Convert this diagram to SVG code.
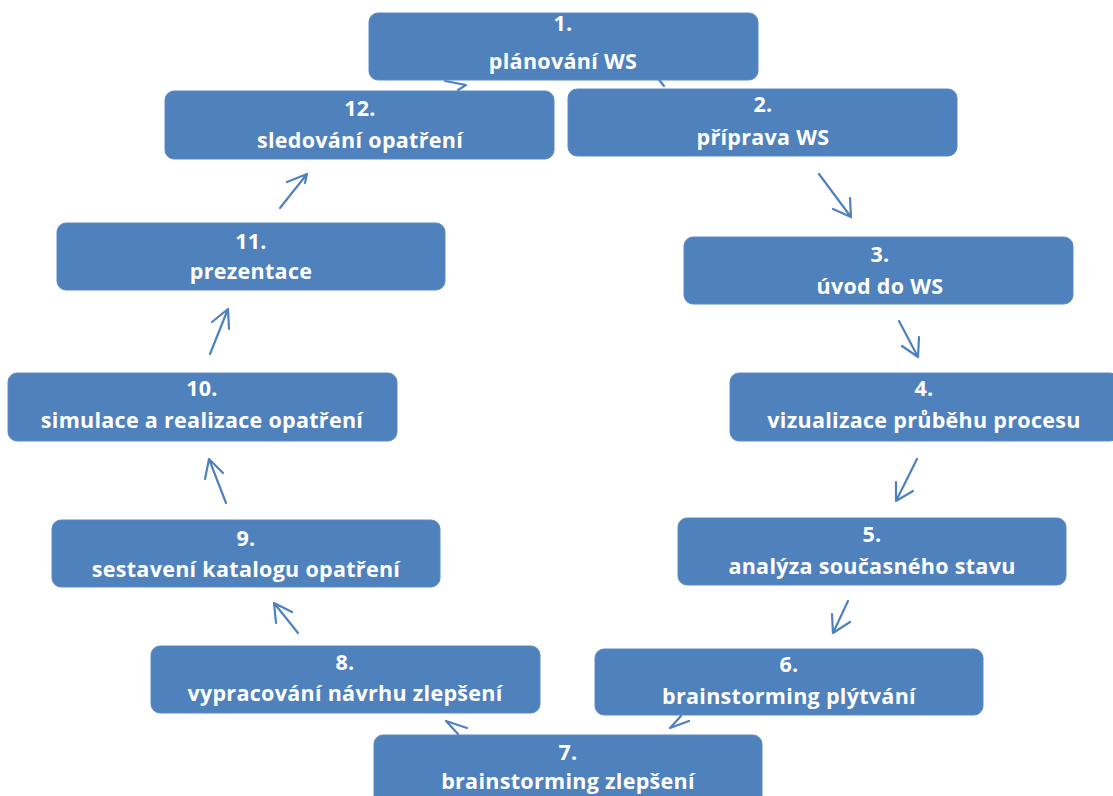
<svg xmlns="http://www.w3.org/2000/svg" width="1113" height="796" viewBox="0 0 1113 796">
  <style>
    .box { fill: #4F81BD; stroke: #5A8AC4; stroke-width: 1; }
    .lbl { fill: #FFFFFF; font-family: "Open Sans", "Liberation Sans", Arial, sans-serif; font-weight: bold; font-size: 21.5px; letter-spacing: 0.3px; text-anchor: middle; }
    .arrow { fill: none; stroke: #4F81BD; stroke-width: 2.2; stroke-linecap: round; stroke-linejoin: round; }
  </style>

  <rect x="0" y="0" width="1113" height="796" fill="#FFFFFF"/>

  <!-- connectors (drawn under the boxes) -->
  <g id="connectors">
    <path class="arrow" d="M445 81 L466 85 L458 90"/>
    <path class="arrow" d="M656 76 L664 86"/>
    <path class="arrow" d="M819 174 L851 217 M833 209 L851 217 L850 198"/>
    <path class="arrow" d="M899 321 L918 357 M902 346 L918 357 L919 337"/>
    <path class="arrow" d="M917 459 L896 501 M896 482 L896 501 L913 491"/>
    <path class="arrow" d="M848 601 L833 633 M832 614 L833 633 L850 622"/>
    <path class="arrow" d="M670 728 L689 721 M670 728 L681 716"/>
    <path class="arrow" d="M446 721 L467 728 M446 721 L458 734"/>
    <path class="arrow" d="M298 633 L274 603 M276 623 L274 603 L292 612"/>
    <path class="arrow" d="M226 503 L209 459 M205 479 L209 459 L223 473"/>
    <path class="arrow" d="M210 354 L228 309 M212 322 L228 309 L229 329"/>
    <path class="arrow" d="M280 208 L307 174 M287 182 L307 174 L305 183"/>
  </g>

  <g id="node1">
    <rect class="box" x="369" y="13" width="389" height="67" rx="9"/>
    <text class="lbl" x="563" y="31">1.</text>
    <text class="lbl" x="563" y="69">plánování WS</text>
  </g>
  <g id="node2">
    <rect class="box" x="568" y="89" width="389" height="67" rx="9"/>
    <text class="lbl" x="763" y="112">2.</text>
    <text class="lbl" x="763" y="145">příprava WS</text>
  </g>
  <g id="node3">
    <rect class="box" x="684" y="237" width="389" height="67" rx="9"/>
    <text class="lbl" x="880" y="262">3.</text>
    <text class="lbl" x="880" y="294">úvod do WS</text>
  </g>
  <g id="node4">
    <rect class="box" x="730" y="373" width="389" height="68" rx="9"/>
    <text class="lbl" x="924" y="396">4.</text>
    <text class="lbl" x="924" y="428">vizualizace průběhu procesu</text>
  </g>
  <g id="node5">
    <rect class="box" x="678" y="518" width="388" height="67" rx="9"/>
    <text class="lbl" x="872" y="542">5.</text>
    <text class="lbl" x="872" y="574">analýza současného stavu</text>
  </g>
  <g id="node6">
    <rect class="box" x="595" y="649" width="388" height="66" rx="9"/>
    <text class="lbl" x="789" y="672">6.</text>
    <text class="lbl" x="789" y="704">brainstorming plýtvání</text>
  </g>
  <g id="node7">
    <rect class="box" x="374" y="735" width="388" height="75" rx="9"/>
    <text class="lbl" x="568" y="760">7.</text>
    <text class="lbl" x="568" y="789">brainstorming zlepšení</text>
  </g>
  <g id="node8">
    <rect class="box" x="151" y="646" width="389" height="67" rx="9"/>
    <text class="lbl" x="345" y="670">8.</text>
    <text class="lbl" x="345" y="701">vypracování návrhu zlepšení</text>
  </g>
  <g id="node9">
    <rect class="box" x="52" y="520" width="388" height="67" rx="9"/>
    <text class="lbl" x="246" y="546">9.</text>
    <text class="lbl" x="246" y="577">sestavení katalogu opatření</text>
  </g>
  <g id="node10">
    <rect class="box" x="8" y="373" width="389" height="68" rx="9"/>
    <text class="lbl" x="202" y="396">10.</text>
    <text class="lbl" x="202" y="428">simulace a realizace opatření</text>
  </g>
  <g id="node11">
    <rect class="box" x="57" y="223" width="388" height="67" rx="9"/>
    <text class="lbl" x="251" y="249">11.</text>
    <text class="lbl" x="251" y="279">prezentace</text>
  </g>
  <g id="node12">
    <rect class="box" x="165" y="91" width="389" height="68" rx="9"/>
    <text class="lbl" x="360" y="116">12.</text>
    <text class="lbl" x="360" y="148">sledování opatření</text>
  </g>
</svg>
